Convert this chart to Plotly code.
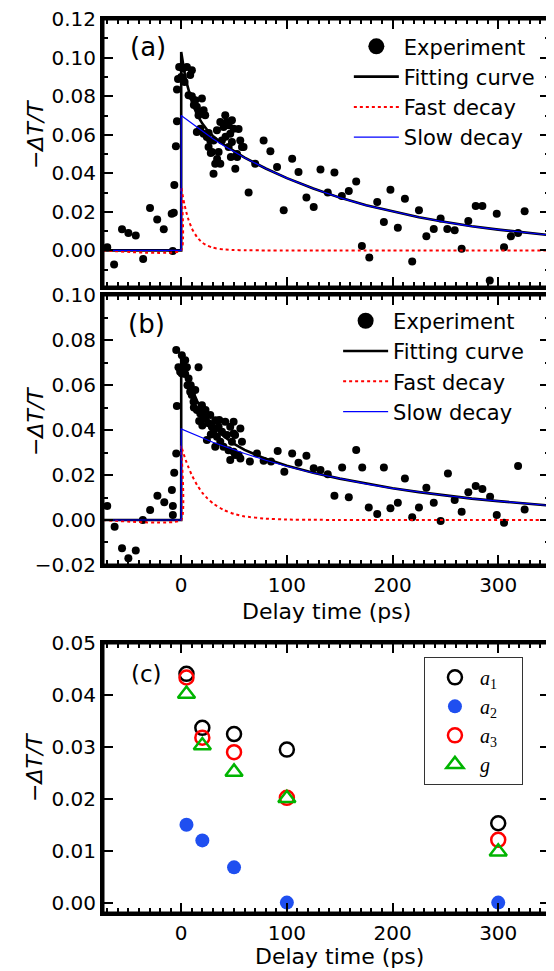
import plotly.graph_objects as go

# ---------------- data: panel (a) ----------------
a_time = [-70, -63.5, -56, -50, -43, -36, -29.5, -22.7, -16.5, -9, -7, -8, -6.5, -5, -4, -4,
          -1.9, 1.6, 5.4, 10.1, 0, 3.2, 7, 10.1, 13.3, 14.8, 19.6, 21.2, 16.4, 22.7, 18, 14.8,
          24.3, 27.5, 21.2, 25.9, 29.1, 32.2, 30.6, 37, 35.4, 38.5, 41.7, 43.3, 40.1, 46.4,
          49.6, 48, 44.9, 51.2, 55.9, 57.5, 37, 33.8, 30.6, -3, 8.5, 12, 17, 26, 28, 34, 42,
          47, 53, 45, 48, 54.3, 59, 52.8,
          63.8, 70, 78, 84.4, 90.7, 97, 105, 111, 118.5, 125.4, 131.8, 138.7, 145, 152, 158.6,
          165.6, 171, 178, 185.5, 191.8, 198, 205, 211.7, 218.6, 225, 232, 239, 245.5, 251.8,
          258.8, 265.4, 271.7, 278.7, 285, 292, 298.6, 305.5, 312, 318.8, 325]
a_signal = [0.0016, -0.0073, 0.011, 0.009, 0.0077, -0.0045, 0.022, 0.016, 0.011, 0.019, 0.0195, -0.0003, 0.034, 0.054, 0.067, 0.0835,
            0.0952, 0.0944, 0.0952, 0.0935, 0.090, 0.0874, 0.0805, 0.080, 0.0779, 0.0745, 0.0788, 0.0727, 0.0701, 0.0701, 0.0632, 0.0615,
            0.0589, 0.0571, 0.0606, 0.0537, 0.0511, 0.045, 0.0398, 0.045, 0.0511, 0.0571, 0.0701, 0.0667, 0.0641, 0.0606,
            0.0632, 0.0563, 0.0537, 0.0424, 0.0571, 0.0537, 0.0667, 0.0623, 0.0571, 0.089, 0.091, 0.0755, 0.072, 0.061, 0.0505, 0.0475, 0.059,
            0.0485, 0.0485, 0.065, 0.0675, 0.063, 0.0537, 0.050,
            0.030, 0.045, 0.057, 0.0515, 0.0433, 0.0208, 0.0476, 0.0407, 0.0274, 0.0225, 0.042, 0.030, 0.0404, 0.0282, 0.0308,
            0.0358, 0.0023, -0.0037, 0.0251, 0.0147, 0.0315, 0.0118, 0.0268, -0.0057, 0.0208, 0.0073, 0.0111, 0.0165, 0.0111,
            0.0104, 0.0009, 0.0152, 0.023, 0.023, -0.0156, 0.019, 0.0017, 0.0073, 0.009, 0.0203]

curve_time = [-74, 0, 0, 1, 2, 3, 5, 7, 10, 15, 20, 25, 30, 40, 50, 60, 80, 100, 125, 150,
              175, 200, 225, 250, 275, 300, 325, 349]
a_fit = [0, 0, 0.103, 0.0993, 0.0959, 0.0928, 0.0873, 0.0828, 0.0773, 0.0705, 0.0658, 0.0622, 0.0594,
         0.0550, 0.0514, 0.0482, 0.0425, 0.0375, 0.0321, 0.0274, 0.0234, 0.0201, 0.0172, 0.0147,
         0.0125, 0.0108, 0.0092, 0.0079]
a_fast = [0, 0, 0.033, 0.0297, 0.0268, 0.0241, 0.0195, 0.0158, 0.0115, 0.0068, 0.0040, 0.0024, 0.0014,
          0.0005, 0.0002, 0.0001, 0, 0, 0, 0, 0, 0, 0, 0, 0, 0, 0, 0]
a_slow = [0, 0, 0.070, 0.0696, 0.0691, 0.0687, 0.0678, 0.0670, 0.0658, 0.0637, 0.0618, 0.0598, 0.0580,
          0.0545, 0.0512, 0.0481, 0.0425, 0.0375, 0.0321, 0.0274, 0.0234, 0.0201, 0.0172, 0.0147,
          0.0125, 0.0108, 0.0092, 0.0079]

# ---------------- data: panel (b) ----------------
b_time = [-70, -63, -56, -50, -43, -36.3, -29.4, -22.5, -16, -8.8, -7.9, -7.9, -6.6, -4.7, -4.1,
          -4.7, -2.6, 0.6, 3.8, 5.4, 0.6, 3.8, 7, 8.5, 10, 13.3, 16.4, 11.7, 14.9, 18, 19.6, 22.7,
          23, 25.9, 27.5, 29, 30.6, 32.2, 33.8, 35.4, 37, 38.6, 24.3, 32.2, 40, 41.7, 43.3, 44.8,
          46.4, 48, 49.6, 51, -1, 2, 6, 9, 12, 17, 20, 28, 36, 21, 46.4, 54.3, 49.6, 56, 51, 57.5,
          49.6, 56,
          65, 71.7, 78, 85, 91.3, 97.6, 105, 111, 118.5, 125.4, 131.8, 138.7, 145, 152.3, 158.6,
          165.6, 171.3, 177.5, 185.5, 191.8, 198, 205, 211.7, 218.6, 225, 232, 239, 245.5, 252.4,
          258.8, 265.4, 271.7, 278.7, 285, 292.3, 298.6, 305.5, 318.8, 325]
b_signal = [0.0062, -0.003, -0.0126, -0.017, -0.0136, 0.0, 0.0044, 0.0108, 0.0079, 0.0133, 0.0062, 0.0022, 0.021, 0.0296, 0.0507,
            0.0756, 0.068, 0.0733, 0.0711, 0.068, 0.0652, 0.065, 0.063, 0.057, 0.0556, 0.0578, 0.068, 0.0526, 0.0489, 0.0474, 0.0511, 0.0452,
            0.0489, 0.043, 0.0467, 0.0415, 0.0393, 0.0444, 0.037, 0.0415, 0.0348, 0.0393, 0.0356, 0.0326, 0.0326, 0.0437, 0.0378, 0.031,
            0.0415, 0.0348, 0.0385, 0.0289, 0.066, 0.068, 0.060, 0.060, 0.050, 0.044, 0.042, 0.038, 0.0445, 0.0465, 0.0267, 0.0289, 0.0437, 0.0407, 0.0378, 0.0348,
            0.0304, 0.0274,
            0.026, 0.0296, 0.0264, 0.026, 0.0307, 0.0215, 0.0296, 0.0255, 0.0286, 0.023, 0.0222, 0.0204, 0.0108, 0.0234, 0.0101,
            0.0311, 0.0234, 0.0056, 0.0027, 0.0234, 0.0052, 0.0077, 0.0185, 0.0012, 0.0056, 0.0144, 0.0077, -0.0004, 0.0207,
            0.0089, 0.0037, 0.0123, 0.0151, 0.0138, 0.0104, 0.0022, -0.0012, 0.024, 0.0047]

b_fit = [0, 0, 0.0735, 0.0717, 0.0700, 0.0683, 0.0651, 0.0623, 0.0584, 0.0530, 0.0486, 0.0450, 0.0420,
         0.0374, 0.0339, 0.0312, 0.0272, 0.0241, 0.0210, 0.0184, 0.0161, 0.0141, 0.0124, 0.0109,
         0.0095, 0.0084, 0.0073, 0.0064]
b_fast = [0, 0, 0.033, 0.0314, 0.0299, 0.0284, 0.0257, 0.0233, 0.0200, 0.0156, 0.0121, 0.0095, 0.0074,
          0.0045, 0.0027, 0.0016, 0.0006, 0.0002, 0.0001, 0, 0, 0, 0, 0, 0, 0, 0, 0]
b_slow = [0, 0, 0.0405, 0.0403, 0.0401, 0.0399, 0.0394, 0.0390, 0.0384, 0.0374, 0.0365, 0.0355, 0.0346,
          0.0329, 0.0312, 0.0296, 0.0266, 0.0239, 0.0209, 0.0184, 0.0161, 0.0141, 0.0124, 0.0109,
          0.0095, 0.0084, 0.0073, 0.0064]

# ---------------- data: panel (c) ----------------
c_delay = [5, 20, 50, 100, 300]
c_a1 = [0.0441, 0.0337, 0.0325, 0.0295, 0.0153]
c_a2 = [0.0150, 0.0120, 0.0068, 0.0, 0.0]
c_a3 = [0.0434, 0.0318, 0.0290, 0.0202, 0.0121]
c_g = [0.0402, 0.0303, 0.0252, 0.0201, 0.0098]

x_tick_vals = [0, 100, 200, 300]
x_tick_text = ["0", "100", "200", "300"]

SANS = "DejaVu Sans"
SERIF = "Liberation Serif"
BLUE_C = "#1f4ff0"
GREEN_C = "#00b400"
NB = "\u00a0"

fig = go.Figure()


def add_decay_panel(t, s, fit, fast, slow, xa, ya, leg):
    fig.add_trace(go.Scatter(x=t, y=s, mode="markers", xaxis=xa, yaxis=ya,
                             marker=dict(color="black", size=8), showlegend=False))
    fig.add_trace(go.Scatter(x=[None], y=[None], mode="markers", xaxis=xa, yaxis=ya,
                             marker=dict(color="black", size=16), name="Experiment", legend=leg))
    fig.add_trace(go.Scatter(x=curve_time, y=fit, mode="lines", xaxis=xa, yaxis=ya,
                             line=dict(color="black", width=2.6), name="Fitting curve", legend=leg))
    fig.add_trace(go.Scatter(x=curve_time, y=fast, mode="lines", xaxis=xa, yaxis=ya,
                             line=dict(color="red", width=2, dash="dot", shape="spline", smoothing=0.4),
                             name="Fast decay", legend=leg))
    fig.add_trace(go.Scatter(x=curve_time, y=slow, mode="lines", xaxis=xa, yaxis=ya,
                             line=dict(color="blue", width=1.2), name="Slow decay", legend=leg))


add_decay_panel(a_time, a_signal, a_fit, a_fast, a_slow, "x", "y", "legend")
add_decay_panel(b_time, b_signal, b_fit, b_fast, b_slow, "x2", "y2", "legend2")

fig.add_trace(go.Scatter(x=c_delay, y=c_a1, mode="markers", xaxis="x3", yaxis="y3",
                         marker=dict(symbol="circle-open", color="black", size=14, line=dict(width=2.5)),
                         name="<i>a</i><sub>1</sub>" + NB * 4, legend="legend3"))
fig.add_trace(go.Scatter(x=c_delay, y=c_a2, mode="markers", xaxis="x3", yaxis="y3",
                         marker=dict(symbol="circle", color=BLUE_C, size=14),
                         name="<i>a</i><sub>2</sub>", legend="legend3"))
fig.add_trace(go.Scatter(x=c_delay, y=c_a3, mode="markers", xaxis="x3", yaxis="y3",
                         marker=dict(symbol="circle-open", color="red", size=14, line=dict(width=2.5)),
                         name="<i>a</i><sub>3</sub>", legend="legend3"))
fig.add_trace(go.Scatter(x=c_delay, y=c_g, mode="markers", xaxis="x3", yaxis="y3",
                         marker=dict(symbol="triangle-up-open", color=GREEN_C, size=15, line=dict(width=2.5)),
                         name="<i>g</i>", legend="legend3"))

MINOR_X = dict(ticks="inside", ticklen=5, tickwidth=1.5, dtick=10, tick0=0, tickcolor="black")
MINOR_Y = dict(ticks="inside", ticklen=5, tickwidth=1.5, dtick=0.01, tick0=0, tickcolor="black")


def frame():
    return dict(showline=True, linecolor="black", linewidth=3, mirror="allticks",
                ticks="inside", ticklen=10, tickwidth=2, tickcolor="black",
                showgrid=False, zeroline=False, automargin=False, ticklabeloverflow="allow",
                tickfont=dict(family=SANS, size=20, color="black"))


# panel frames (drawn as layout rectangles on each subplot's domain)
frames = [dict(type="rect", xref=f"{xr} domain", yref=f"{yr} domain", x0=0, x1=1, y0=0, y1=1,
               line=dict(color="black", width=3), layer="above")
          for xr, yr in (("x", "y"), ("x2", "y2"), ("x3", "y3"))]

TITLE_FONT = dict(family=SANS, size=22, color="black")
YTITLE = "\u2212<i>\u0394T/T</i>"


def label(text, x, y, font, angle=0):
    return dict(text=text, x=x, y=y, xref="paper", yref="paper", showarrow=False,
                xanchor="center", yanchor="middle", textangle=angle, font=font)


annotations = [
    label("(a)", 0.1007, 0.9687, dict(family=SANS, size=26, color="black")),
    label("(b)", 0.0984, 0.6588, dict(family=SANS, size=26, color="black")),
    label("(c)", 0.0962, 0.2673, dict(family=SANS, size=23, color="black")),
    label(YTITLE, -0.152, 0.8702, TITLE_FONT, -90),
    label(YTITLE, -0.152, 0.5492, TITLE_FONT, -90),
    label(YTITLE, -0.152, 0.1622, TITLE_FONT, -90),
    label("Delay time (ps)", 0.5, 0.3378, TITLE_FONT),
    label("Delay time (ps)", 0.530, -0.0492, TITLE_FONT),
]

# page body has an 8 px margin, so the figure is 8 px smaller and margins are shifted by 8 px
fig.update_layout(
    width=546, height=963,
    margin=dict(l=95, r=4, t=11, b=58, autoexpand=False),
    paper_bgcolor="white", plot_bgcolor="white",
    xaxis=dict(frame(), anchor="y", domain=[0, 1], range=[-74, 349],
               tickvals=x_tick_vals, ticktext=x_tick_text, showticklabels=False, minor=MINOR_X),
    xaxis2=dict(frame(), anchor="y2", domain=[0, 1], range=[-74, 349],
                tickvals=x_tick_vals, ticktext=x_tick_text, minor=MINOR_X),
    xaxis3=dict(frame(), anchor="y3", domain=[0, 1], range=[-74, 349],
                tickvals=x_tick_vals, ticktext=x_tick_text, minor=MINOR_X),
    yaxis=dict(frame(), anchor="x", domain=[0.7002, 1.0], range=[-0.019, 0.1201], dtick=0.02, tick0=0,
               tickformat=".2f", minor=MINOR_Y),
    yaxis2=dict(frame(), anchor="x2", domain=[0.3893, 0.6913], range=[-0.02, 0.1001], dtick=0.02, tick0=0,
                tickformat=".2f", minor=MINOR_Y),
    yaxis3=dict(frame(), anchor="x3", domain=[0, 0.302], range=[-0.002, 0.05005], dtick=0.01, tick0=0,
                tickformat=".2f"),
    legend=dict(x=0.550, y=0.992, xanchor="left", yanchor="top", bgcolor="rgba(0,0,0,0)",
                itemwidth=45, font=dict(family=SANS, size=21, color="black"), tracegroupgap=0),
    legend2=dict(x=0.526, y=0.685, xanchor="left", yanchor="top", bgcolor="rgba(0,0,0,0)",
                 itemwidth=45, font=dict(family=SANS, size=21, color="black"), tracegroupgap=0),
    legend3=dict(x=0.718, y=0.2865, xanchor="left", yanchor="top", bgcolor="white",
                 bordercolor="#333333", borderwidth=1, itemwidth=40, indentation=5,
                 font=dict(family=SERIF, size=20, color="black"), tracegroupgap=0),
    shapes=frames,
    annotations=annotations,
)

fig.write_html("out.html")
